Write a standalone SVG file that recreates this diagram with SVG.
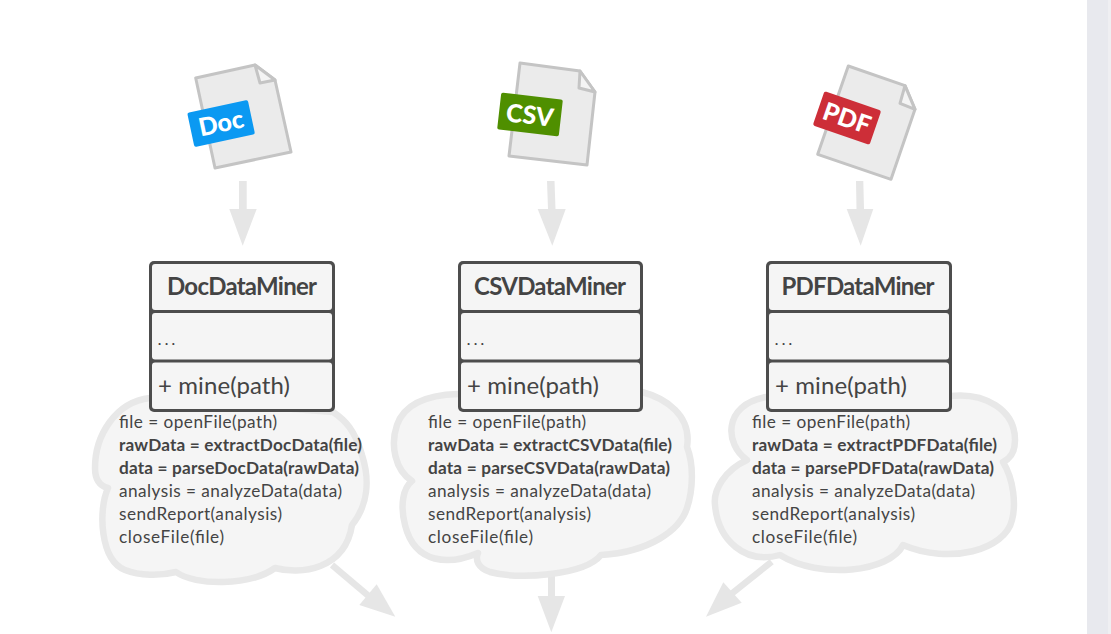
<svg xmlns="http://www.w3.org/2000/svg" width="1111" height="634" viewBox="0 0 1111 634">
<style>
text{font-family:"Lato","Open Sans","Liberation Sans",sans-serif;fill:#444}
.arrow{fill:#e6e6e6}
.shaft{fill:none;stroke:#e6e6e6;stroke-width:6.5}
.paper{fill:#ebebeb;stroke:#c4c4c4;stroke-width:3;stroke-linejoin:round}
.fold{fill:#f4f4f4;stroke:#c4c4c4;stroke-width:3;stroke-linejoin:round}
.badge-t{fill:#fff;font-weight:900;font-size:25px;text-anchor:middle}
.cloud{fill:#f5f5f5;stroke:#e8e8e8;stroke-width:6.5;stroke-linejoin:round}
.outer{fill:#4d4d4d}
.cell{fill:#f5f5f5}
.title{font-weight:700;font-size:24px;text-anchor:middle}
.member{font-size:24px}
.dots{font-size:22px;font-weight:300}
.code{font-size:17.2px}
.b{font-weight:700}
</style>
<rect width="1111" height="634" fill="#fff"/>
<rect x="1087" y="0" width="24" height="634" fill="#e8e9ee"/>
<rect x="1108" y="0" width="3" height="634" fill="#efeff2"/>
<g id="connectors">
<polygon class="arrow" points="239,181 246.7,181 246.7,209 256.7,209 242.7,245.7 229.3,209 239,209"/>
<polygon class="arrow" points="547,181 554.5,181 555.5,209 565.7,209 552.3,245.7 537.7,209 548,209"/>
<polygon class="arrow" points="856,181 863.3,181 864,209 873.3,209 860.7,245.7 846.7,209 856.5,209"/>
<path class="shaft" d="M332 565L371 598"/>
<polygon class="arrow" points="395.3,616.7 376.7,584.3 359.3,605"/>
<polygon class="arrow" points="548,573 555,573 555,596 565,596 551.3,632.3 537.7,596 548,596"/>
<path class="shaft" d="M771.7 561.7L730 595"/>
<polygon class="arrow" points="706,616.7 723.3,582.3 741.7,602.7"/>
</g>
<g id="doc-file">
<path class="paper" d="M195.7 78L255 65L275 80L291 152L215 168Z"/>
<path class="fold" d="M255 65L260 83L275 80Z"/>
<g transform="rotate(-12 221 123)"><rect x="190" y="106" width="62" height="35" rx="2" fill="#0b99f2"/><text class="badge-t" x="221" y="132">Doc</text></g>
</g>
<g id="csv-file">
<path class="paper" d="M520 63L580 71L595 92L587 165L509 156Z"/>
<path class="fold" d="M580 71L579 88L595 92Z"/>
<g transform="rotate(6.5 530 114.5)"><rect x="499" y="96" width="62" height="37" rx="2" fill="#4f8f00"/><text class="badge-t" x="530" y="124">CSV</text></g>
</g>
<g id="pdf-file">
<path class="paper" d="M848.3 66L905 85.7L915 109.3L891 179.3L817.7 154.3Z"/>
<path class="fold" d="M905 85.7L900 103.3L915 109.3Z"/>
<g transform="rotate(19 847 118)"><rect x="817" y="100" width="60" height="36" rx="2" fill="#cd2e38"/><text class="badge-t" x="847" y="127">PDF</text></g>
</g>
<g id="doc-cloud">
<path class="cloud" d="M150 398C115 402 95 436 95 468C95 480 100 486 108 488C98 510 100 560 125 570C140 576 160 576 176 572C195 586 250 586 275 568C300 575 345 570 352 525C368 505 370 480 362 455C355 430 345 420 333 412Z"/>
<text class="code" x="119" y="428" textLength="158">file = openFile(path)</text>
<text class="code b" x="119" y="451" textLength="243">rawData = extractDocData(file)</text>
<text class="code b" x="119" y="474" textLength="240">data = parseDocData(rawData)</text>
<text class="code" x="119" y="497" textLength="223">analysis = analyzeData(data)</text>
<text class="code" x="119" y="520" textLength="163">sendReport(analysis)</text>
<text class="code" x="119" y="543" textLength="105">closeFile(file)</text>
</g>
<g id="csv-cloud">
<path class="cloud" d="M642 392C665 398 692 415 687 447C694 465 693 490 687 508C680 530 650 552 601 555C585 575 520 580 490 572C478 568 475 560 478 553C450 565 415 565 405 525C400 505 403 488 412 481C395 470 390 445 397 425C404 405 425 395 458 394Z"/>
<text class="code" x="428" y="428" textLength="158">file = openFile(path)</text>
<text class="code b" x="428" y="451" textLength="244">rawData = extractCSVData(file)</text>
<text class="code b" x="428" y="474" textLength="242">data = parseCSVData(rawData)</text>
<text class="code" x="428" y="497" textLength="223">analysis = analyzeData(data)</text>
<text class="code" x="428" y="520" textLength="163">sendReport(analysis)</text>
<text class="code" x="428" y="543" textLength="105">closeFile(file)</text>
</g>
<g id="pdf-cloud">
<path class="cloud" d="M950 396C985 392 1015 410 1015 440C1015 450 1012 458 1003 462C1014 480 1016 505 1012 520C1005 550 950 565 903 545C890 572 820 580 780 555C745 565 718 540 715 505C713 490 725 470 747 460C725 445 722 405 766 397Z"/>
<text class="code" x="752" y="428" textLength="158">file = openFile(path)</text>
<text class="code b" x="752" y="451" textLength="245">rawData = extractPDFData(file)</text>
<text class="code b" x="752" y="474" textLength="242">data = parsePDFData(rawData)</text>
<text class="code" x="752" y="497" textLength="223">analysis = analyzeData(data)</text>
<text class="code" x="752" y="520" textLength="163">sendReport(analysis)</text>
<text class="code" x="752" y="543" textLength="105">closeFile(file)</text>
</g>
<g id="doc-miner">
<rect class="outer" x="149" y="261" width="186" height="151" rx="5"/>
<rect class="cell" x="152" y="264" width="180" height="46" rx="3"/>
<rect class="cell" x="152" y="313" width="180" height="46.500" rx="3"/>
<rect class="cell" x="152" y="362.500" width="180" height="46.500" rx="3"/>
<text class="title" x="242" y="295" textLength="150">DocDataMiner</text>
<text class="member dots" x="157" y="345" textLength="19">...</text>
<text class="member" x="158" y="394" textLength="132">+ mine(path)</text>
</g>
<g id="csv-miner">
<rect class="outer" x="458" y="261" width="185" height="151" rx="5"/>
<rect class="cell" x="461" y="264" width="179" height="46" rx="3"/>
<rect class="cell" x="461" y="313" width="179" height="46.500" rx="3"/>
<rect class="cell" x="461" y="362.500" width="179" height="46.500" rx="3"/>
<text class="title" x="550" y="295" textLength="152">CSVDataMiner</text>
<text class="member dots" x="466" y="345" textLength="19">...</text>
<text class="member" x="467" y="394" textLength="132">+ mine(path)</text>
</g>
<g id="pdf-miner">
<rect class="outer" x="766" y="261" width="186" height="151" rx="5"/>
<rect class="cell" x="769" y="264" width="180" height="46" rx="3"/>
<rect class="cell" x="769" y="313" width="180" height="46.500" rx="3"/>
<rect class="cell" x="769" y="362.500" width="180" height="46.500" rx="3"/>
<text class="title" x="858" y="295" textLength="153">PDFDataMiner</text>
<text class="member dots" x="774" y="345" textLength="19">...</text>
<text class="member" x="775" y="394" textLength="132">+ mine(path)</text>
</g>
</svg>
